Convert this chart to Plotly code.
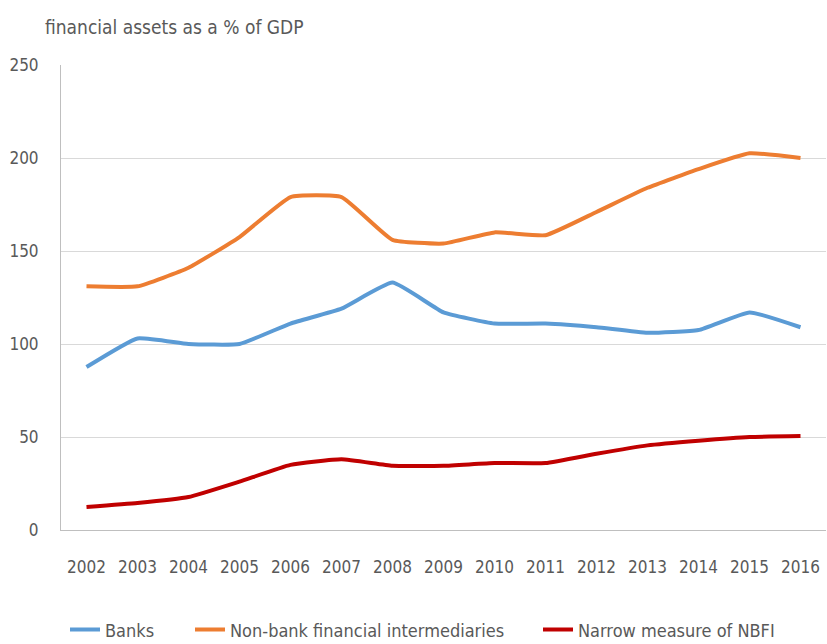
import plotly.graph_objects as go

years = [str(y) for y in range(2002, 2017)]
banks = [87.6, 103, 100, 100, 111, 119, 133, 117, 111, 111, 109, 106, 107.5, 117, 109]
nonbank = [131, 131, 141, 157.5, 179, 179, 156, 154, 160, 158.5, 171, 184, 194, 202.5, 200]
narrow = [12.4, 14.5, 17.7, 26, 35, 38, 34.5, 34.5, 36, 36, 41, 45.5, 48, 50, 50.5]
y_ticks = [0, 50, 100, 150, 200, 250]

FONT = "DejaVu Sans Condensed, Liberation Sans Narrow, Roboto, sans-serif"
GREY = "#595959"

fig = go.Figure()
series = [
    ("Banks", banks, "#5B9BD5", "legend", 65),
    ("Non-bank financial intermediaries", nonbank, "#ED7D31", "legend2", 190),
    ("Narrow measure of NBFI", narrow, "#C00000", "legend3", 538),
]
legends = {}
for name, vals, col, leg, left_px in series:
    fig.add_trace(go.Scatter(
        x=years, y=vals, name=name, mode="lines", legend=leg,
        line=dict(color=col, width=4, shape="spline", smoothing=0.4),
    ))
    legends[leg] = dict(
        orientation="h", xref="container", yref="container",
        x=left_px / 827, xanchor="left", y=0.022, yanchor="middle",
        font=dict(size=18, color=GREY), itemwidth=30,
        bgcolor="rgba(0,0,0,0)",
    )

fig.update_layout(
    width=827, height=644,
    margin=dict(l=61, r=1, t=65, b=114),
    paper_bgcolor="white", plot_bgcolor="white",
    font=dict(family=FONT, size=17, color=GREY),
    showlegend=True,
    **legends,
    annotations=[dict(
        text="financial assets as a % of GDP", xref="paper", yref="paper",
        x=-0.024, y=1.0, xanchor="left", yanchor="bottom", yshift=25,
        showarrow=False, font=dict(size=19, color=GREY),
    )],
)
fig.update_xaxes(
    type="category", range=[-0.5, 14.5], showgrid=False, showline=True,
    linecolor="#BFBFBF", linewidth=1, ticks="", ticklabelstandoff=22,
    tickfont=dict(size=17),
)
fig.update_yaxes(
    range=[0, 250], tickvals=y_ticks, showgrid=True, gridcolor="#D9D9D9",
    gridwidth=1, showline=True, linecolor="#BFBFBF", linewidth=1,
    ticks="", ticklabelstandoff=18, zeroline=False, tickfont=dict(size=17),
)

fig.write_html("out.html")
